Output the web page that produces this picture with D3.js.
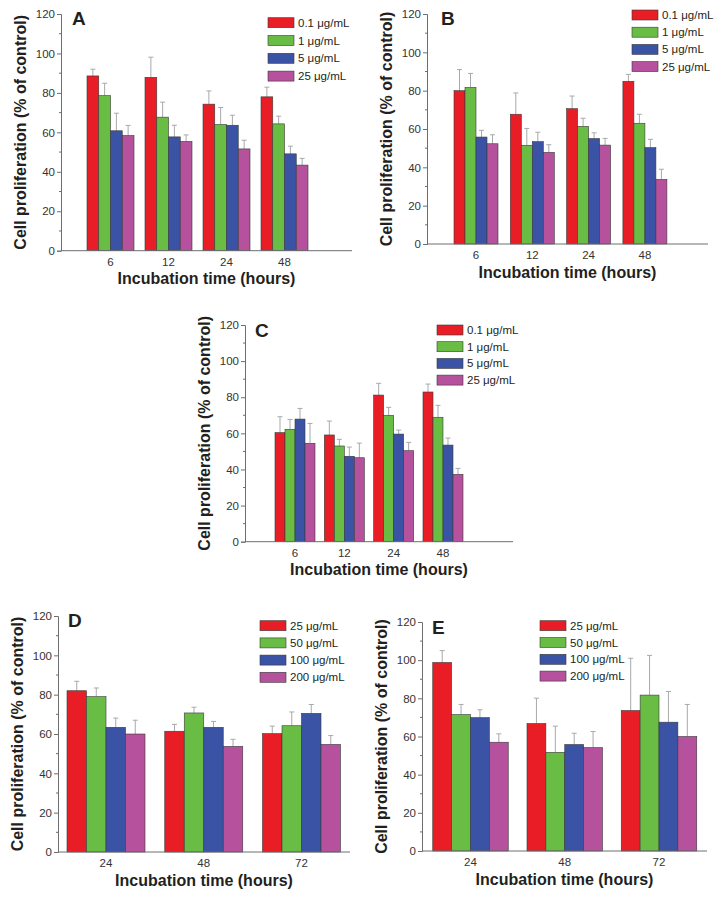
<!DOCTYPE html>
<html>
<head>
<meta charset="utf-8">
<script src="https://cdn.jsdelivr.net/npm/d3@7"></script>
<style>
  html, body { margin: 0; padding: 0; background: #fff; }
  svg { display: block; font-family: Arial, "Liberation Sans", Helvetica, sans-serif; }
</style>
</head>
<body>
<svg id="chart" width="724" height="898"></svg>
<script>
// ---------------- DATA ----------------
const timesABC = ["6", "12", "24", "48"];
const timesDE = ["24", "48", "72"];
const concABC = ["0.1 μg/mL", "1 μg/mL", "5 μg/mL", "25 μg/mL"];
const concDE = ["25 μg/mL", "50 μg/mL", "100 μg/mL", "200 μg/mL"];
const yTickValues = [0, 20, 40, 60, 80, 100, 120];
const seriesColors = ["#e91d25", "#69bd45", "#3a53a4", "#b6519d"];

// means [time group][concentration]
const meanA = [[88.6, 78.6, 60.8, 58.4], [87.9, 67.7, 57.7, 55.4], [74.3, 64.0, 63.6, 51.6], [78.0, 64.3, 49.1, 43.4]];
const errA  = [[3.4, 6.3, 8.9, 5.1], [10.2, 7.6, 5.9, 3.3], [6.7, 8.6, 5.1, 4.4], [4.9, 3.9, 3.9, 3.4]];
const meanB = [[80.0, 81.7, 55.8, 52.3], [67.7, 51.5, 53.4, 47.8], [70.6, 61.4, 55.0, 51.6], [84.9, 63.0, 50.3, 33.7]];
const errB  = [[11.0, 7.3, 3.5, 4.7], [11.1, 8.8, 4.9, 4.0], [6.6, 4.2, 3.0, 3.5], [3.6, 4.7, 4.3, 5.3]];
const meanC = [[60.4, 62.2, 67.9, 54.5], [59.1, 53.0, 47.3, 46.5], [81.2, 70.0, 59.6, 50.4], [82.9, 68.9, 53.5, 37.3]];
const errC  = [[8.8, 5.5, 5.9, 11.0], [7.7, 3.7, 5.1, 8.1], [6.5, 4.4, 2.2, 4.6], [4.4, 6.6, 3.9, 3.3]];
const meanD = [[82.0, 79.0, 63.4, 60.0], [61.4, 70.7, 63.4, 53.7], [60.2, 64.2, 70.5, 54.7]];
const errD  = [[4.8, 4.4, 4.7, 7.0], [3.5, 2.9, 3.0, 3.6], [3.8, 7.0, 4.5, 4.5]];
const meanE = [[98.8, 71.5, 69.9, 57.0], [66.8, 51.7, 55.8, 54.2], [73.6, 81.7, 67.5, 60.0]];
const errE  = [[6.2, 5.3, 4.1, 4.4], [13.3, 13.7, 5.9, 8.4], [27.4, 20.8, 16.1, 16.8]];

const xTitle = "Incubation time (hours)";
const yTitle = "Cell proliferation (% of control)";

// ---------------- LAYOUT ----------------
const panels = [
  { letter: "A", cats: timesABC, series: concABC, mean: meanA, err: errA,
    x0: 61, xEnd: 352, yTop: 14, yBot: 250.7, c0: 110.5, step: 58, gw: 47,
    letterX: 72, letterY: 25, legX: 268, legY: 22.7, legDy: 17.8 },
  { letter: "B", cats: timesABC, series: concABC, mean: meanB, err: errB,
    x0: 427, xEnd: 708, yTop: 14, yBot: 244, c0: 476, step: 56.3, gw: 44,
    letterX: 441, letterY: 25, legX: 632, legY: 15, legDy: 17.2 },
  { letter: "C", cats: timesABC, series: concABC, mean: meanC, err: errC,
    x0: 245, xEnd: 513, yTop: 325, yBot: 541.7, c0: 295, step: 49.33, gw: 40,
    letterX: 255, letterY: 337, legX: 437, legY: 330, legDy: 16.7 },
  { letter: "D", cats: timesDE, series: concDE, mean: meanD, err: errD,
    x0: 58, xEnd: 350, yTop: 616, yBot: 852, c0: 106, step: 97.75, gw: 78,
    letterX: 68, letterY: 627, legX: 260, legY: 625.7, legDy: 17.2 },
  { letter: "E", cats: timesDE, series: concDE, mean: meanE, err: errE,
    x0: 422, xEnd: 707, yTop: 622, yBot: 851, c0: 470.5, step: 94.25, gw: 75.5,
    letterX: 432, letterY: 634, legX: 540, legY: 625.7, legDy: 16.8 }
];

const svg = d3.select("#chart");
const axisColor = "#6d6e71";
const textColor = "#231f20";

panels.forEach(p => {
  const g = svg.append("g");
  const n = p.cats.length;
  const pad = 1 - p.gw / p.step;
  const x = d3.scaleBand().domain(p.cats)
    .range([p.c0 - p.step / 2, p.c0 - p.step / 2 + n * p.step])
    .paddingInner(pad).paddingOuter(pad / 2);
  const xs = d3.scaleBand().domain(p.series).range([0, x.bandwidth()]).padding(0);
  const y = d3.scaleLinear().domain([0, 120]).range([p.yBot, p.yTop]);

  // bars
  const groups = g.selectAll("g.grp").data(p.cats).join("g")
    .attr("transform", c => `translate(${x(c)},0)`);
  groups.each(function (c, gi) {
    const gg = d3.select(this);
    p.series.forEach((s, si) => {
      const v = p.mean[gi][si];
      const e = p.err[gi][si];
      const bx = xs(s), bw = xs.bandwidth();
      const cx = bx + bw / 2;
      // error bar (upper only)
      gg.append("line").attr("x1", cx).attr("x2", cx)
        .attr("y1", y(v)).attr("y2", y(v + e))
        .attr("stroke", "#a7a9ac").attr("stroke-width", 1);
      gg.append("line").attr("x1", cx - 2.5).attr("x2", cx + 2.5)
        .attr("y1", y(v + e)).attr("y2", y(v + e))
        .attr("stroke", "#a7a9ac").attr("stroke-width", 1);
      gg.append("rect").attr("x", bx).attr("width", bw)
        .attr("y", y(v)).attr("height", y(0) - y(v))
        .attr("fill", seriesColors[si])
        .attr("stroke", "#3a3a3a").attr("stroke-width", 0.6);
    });
  });

  // y axis
  const yAxis = d3.axisLeft(y).tickValues(yTickValues).tickSize(4).tickPadding(2).tickFormat(d3.format("d"));
  const ya = g.append("g").attr("transform", `translate(${p.x0},0)`).call(yAxis);
  ya.select(".domain").attr("stroke", axisColor);
  ya.selectAll(".tick line").attr("stroke", axisColor);
  ya.selectAll(".tick text").attr("fill", "#333").attr("font-size", 11.5)
    .attr("font-family", "Arial, 'Liberation Sans', sans-serif");
  // minor ticks
  const minor = d3.range(10, 120, 20);
  g.append("g").selectAll("line").data(minor).join("line")
    .attr("x1", p.x0 - 2).attr("x2", p.x0)
    .attr("y1", d => y(d)).attr("y2", d => y(d))
    .attr("stroke", axisColor).attr("stroke-width", 1);

  // x axis
  const xAxis = d3.axisBottom(x).tickSize(0).tickPadding(7);
  const xa = g.append("g").attr("transform", `translate(0,${p.yBot})`).call(xAxis);
  xa.select(".domain").remove();
  xa.selectAll(".tick text").attr("fill", "#333").attr("font-size", 11.5)
    .attr("font-family", "Arial, 'Liberation Sans', sans-serif");
  g.append("line").attr("x1", p.x0).attr("x2", p.xEnd)
    .attr("y1", p.yBot).attr("y2", p.yBot)
    .attr("stroke", axisColor).attr("stroke-width", 1);

  // titles
  g.append("text").attr("x", (p.x0 + p.xEnd) / 2).attr("y", p.yBot + 33.5)
    .attr("text-anchor", "middle").attr("font-weight", "bold").attr("font-size", 16)
    .attr("fill", textColor).text(xTitle);
  g.append("text")
    .attr("transform", `translate(${p.x0 - 41},${(p.yTop + p.yBot) / 2}) rotate(-90)`)
    .attr("dy", "0.35em")
    .attr("text-anchor", "middle").attr("font-weight", "bold").attr("font-size", 16)
    .attr("fill", textColor).text(yTitle);

  // panel letter
  g.append("text").attr("x", p.letterX).attr("y", p.letterY)
    .attr("font-weight", "bold").attr("font-size", 19).attr("fill", textColor)
    .text(p.letter);

  // legend
  const leg = g.append("g");
  p.series.forEach((s, si) => {
    const cy = p.legY + si * p.legDy;
    leg.append("rect").attr("x", p.legX).attr("y", cy - 5).attr("width", 26).attr("height", 10)
      .attr("fill", seriesColors[si]).attr("stroke", "#3a3a3a").attr("stroke-width", 0.6);
    leg.append("text").attr("x", p.legX + 30).attr("y", cy).attr("dy", "0.35em")
      .attr("font-size", 11.5).attr("fill", textColor).text(s);
  });
});
</script>
</body>
</html>
